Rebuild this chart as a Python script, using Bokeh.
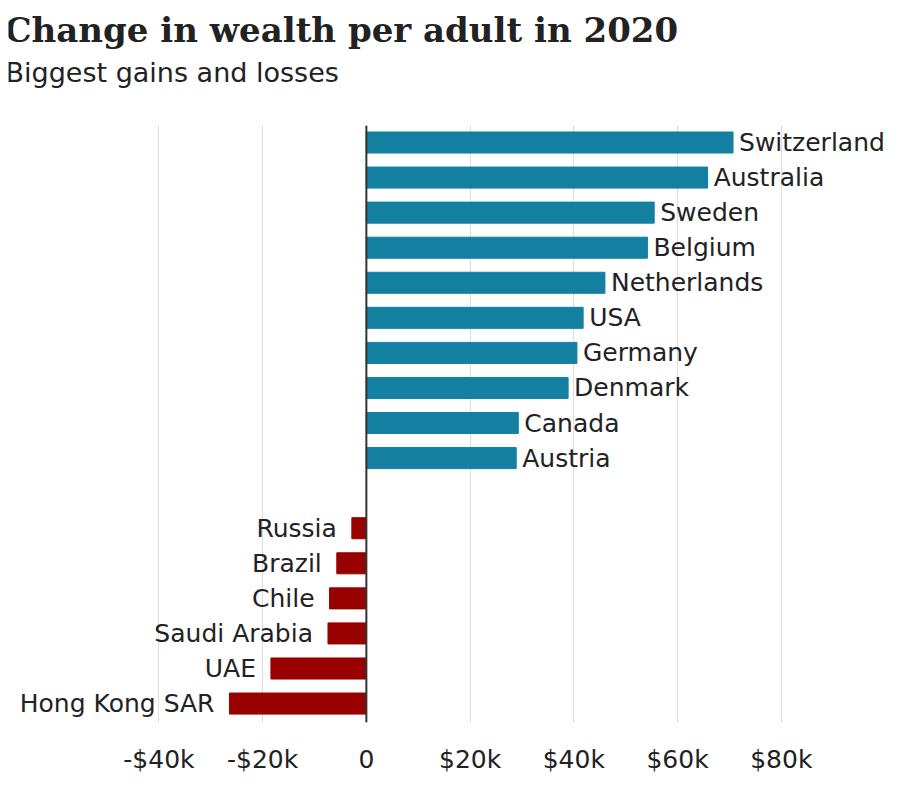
from bokeh.plotting import figure
from bokeh.layouts import column
from bokeh.models import Range1d, Span, FixedTicker, ColumnDataSource
from bokeh.core.properties import value
from bokeh.embed import file_html
from bokeh.resources import INLINE

# Data (US$ change in wealth per adult, 2020)
gain_countries = ["Switzerland", "Australia", "Sweden", "Belgium", "Netherlands",
                  "USA", "Germany", "Denmark", "Canada", "Austria"]
gain_values = [70700, 65800, 55500, 54200, 46000, 41800, 40600, 38900, 29300, 28900]
loss_countries = ["Russia", "Brazil", "Chile", "Saudi Arabia", "UAE", "Hong Kong SAR"]
loss_values = [-2800, -5700, -7100, -7400, -18400, -26400]
tick_values = [-40000, -20000, 0, 20000, 40000, 60000, 80000]
tick_labels = ["-$40k", "-$20k", "0", "$20k", "$40k", "$60k", "$80k"]
title_text = "Change in wealth per adult in 2020"
subtitle_text = "Biggest gains and losses"

BLUE = "#1380A1"
RED = "#990000"
FONT = "DejaVu Sans"
TXT = "#222222"
W = 890
HEAD_H = 125

# ---- heading strip (title + subtitle), pixel-unit ranges ----
head = figure(width=W, height=HEAD_H, output_backend="svg", toolbar_location=None,
              x_range=Range1d(0, W), y_range=Range1d(HEAD_H, 0),
              min_border_left=0, min_border_right=0, min_border_top=0, min_border_bottom=0)
head.text(x=[-4], y=[29], text=[title_text], text_font=value("DejaVu Serif"),
          text_font_size="34px", text_font_style="bold", text_color=TXT,
          text_baseline="alphabetic", text_align="left")
head.text(x=[-3], y=[72], text=[subtitle_text], text_font=value(FONT),
          text_font_size="27px", text_color=TXT,
          text_baseline="alphabetic", text_align="left")
head.axis.visible = False
head.grid.grid_line_color = None
head.outline_line_color = None

# ---- main chart ----
gain_y = list(range(len(gain_countries)))
loss_y = [len(gain_countries) + 1 + i for i in range(len(loss_countries))]

gain_src = ColumnDataSource(dict(y=gain_y, v=gain_values, name=gain_countries))
loss_src = ColumnDataSource(dict(y=loss_y, v=loss_values, name=loss_countries))

p = figure(width=W, height=660, output_backend="svg", toolbar_location=None,
           x_range=Range1d(-69000, 101060),
           y_range=Range1d(loss_y[-1] + 0.54, -0.485),
           min_border_left=8, min_border_right=0, min_border_top=0, min_border_bottom=63)

p.hbar(y="y", right="v", left=0, height=0.6, color=BLUE, source=gain_src)
p.hbar(y="y", right="v", left=0, height=0.6, color=RED, source=loss_src)

p.text(x="v", y="y", text="name", source=gain_src, x_offset=6,
       text_align="left", text_baseline="middle", text_font=value(FONT),
       text_font_size="25px", text_color=TXT)
p.text(x="v", y="y", text="name", source=loss_src, x_offset=-15,
       text_align="right", text_baseline="middle", text_font=value(FONT),
       text_font_size="25px", text_color=TXT)

p.add_layout(Span(location=0, dimension="height", line_color="#333333", line_width=2))

p.yaxis.visible = False
p.ygrid.grid_line_color = None
p.xgrid.grid_line_color = "#dcdcdc"
p.xgrid.grid_line_width = 1
p.xaxis.ticker = FixedTicker(ticks=tick_values)
p.xaxis.major_label_overrides = {t: l for t, l in zip(tick_values, tick_labels)}
p.xaxis.axis_line_color = None
p.xaxis.major_tick_line_color = None
p.xaxis.major_tick_out = 0
p.xaxis.major_tick_in = 0
p.xaxis.minor_tick_line_color = None
p.xaxis.major_label_text_font = FONT
p.xaxis.major_label_text_font_size = "25px"
p.xaxis.major_label_text_color = TXT
p.xaxis.major_label_standoff = 22
p.outline_line_color = None
p.background_fill_color = "white"
p.border_fill_color = "white"

layout = column(head, p, spacing=0)
open("out.html", "w").write(file_html(layout, INLINE))
